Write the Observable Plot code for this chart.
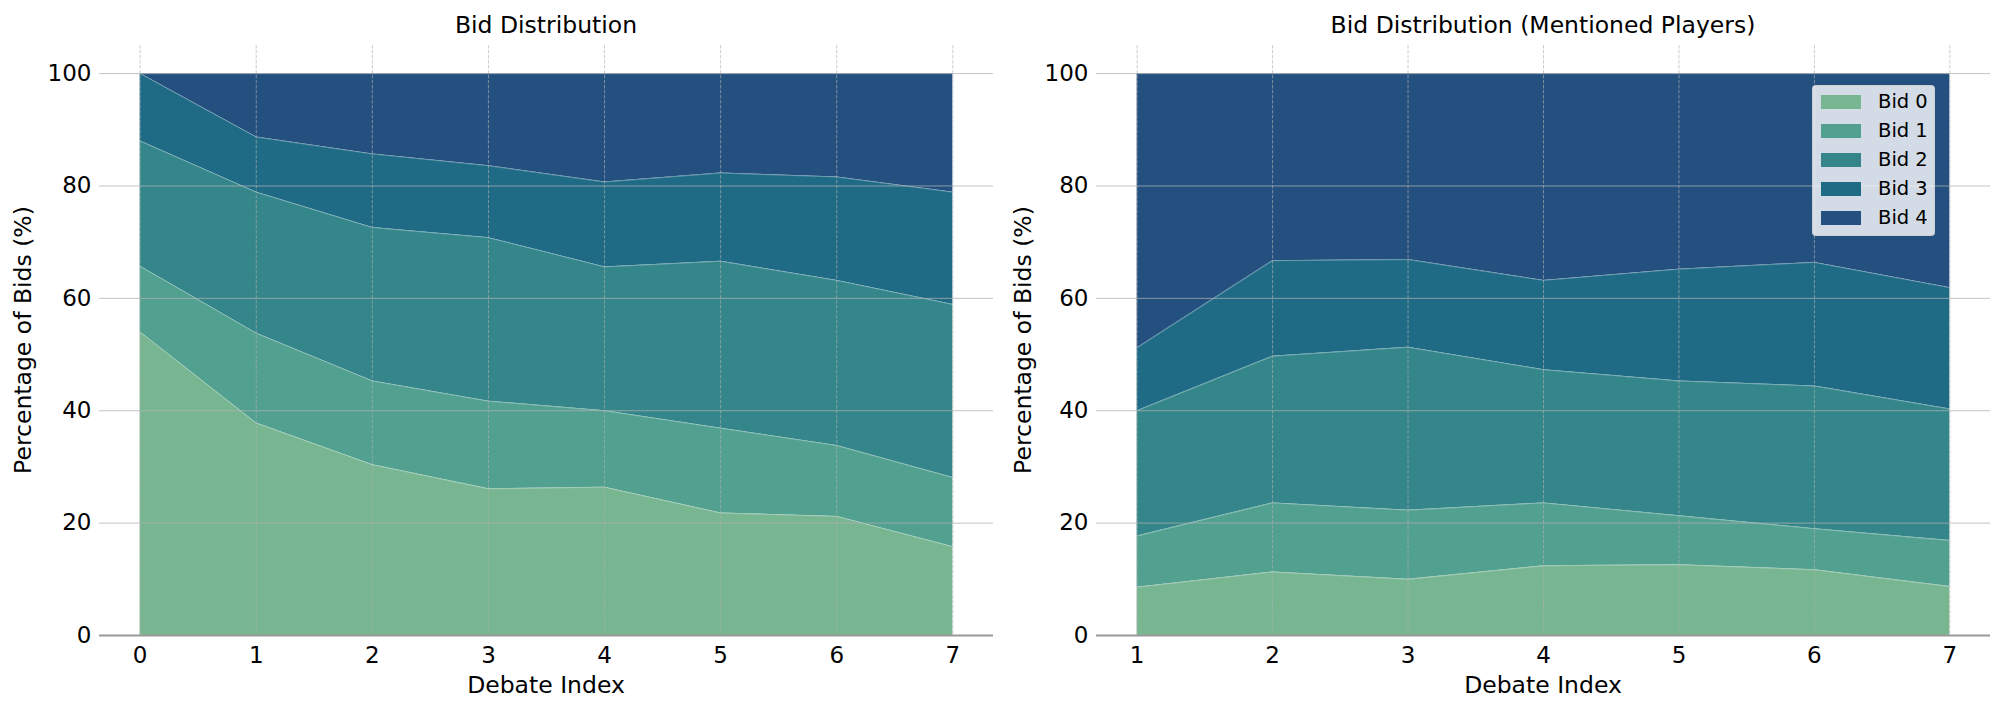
<!DOCTYPE html>
<html>
<head>
<meta charset="utf-8">
<script src="https://cdn.jsdelivr.net/npm/d3@7"></script>
<script src="https://cdn.jsdelivr.net/npm/@observablehq/plot@0.6"></script>
<style>
  html, body { margin: 0; padding: 0; background: #fff; }
  #wrap { position: relative; width: 2003px; height: 712px; overflow: hidden; font-family: "DejaVu Sans", sans-serif; }
  .panel { position: absolute; top: 0; }
  #overlay { position: absolute; left: 0; top: 0; pointer-events: none; }
  #legend { position: absolute; left: 1812px; top: 85px; width: 123px; height: 151px; box-sizing: border-box;
    background: rgba(255,255,255,0.8); border: 1px solid rgba(204,204,204,0.8); border-radius: 4px; }
  .lrow { position: absolute; left: 8px; height: 20px; display: flex; align-items: center; }
  .lsw { width: 40px; height: 14px; }
  .ltx { margin-left: 17px; font-size: 19.5px; color: #000; line-height: 20px; }
</style>
</head>
<body>
<div id="wrap">
  <div id="left" class="panel" style="left:0px"></div>
  <div id="right" class="panel" style="left:1000px"></div>
  <div id="legend"></div>
  <svg id="overlay" width="2003" height="712"></svg>
</div>
<script>
// ---- data ----
const bidLabels = ["Bid 0", "Bid 1", "Bid 2", "Bid 3", "Bid 4"];
const bidColors = ["#78b692", "#52a08f", "#34868a", "#1f6b86", "#245080"];

const leftX = [0, 1, 2, 3, 4, 5, 6, 7];
const leftBid0 = [54.0, 37.8, 30.4, 26.1, 26.4, 21.8, 21.2, 15.8];
const leftBid1 = [11.7, 16.0, 14.9, 15.6, 13.6, 15.1, 12.6, 12.3];
const leftBid2 = [22.3, 25.1, 27.3, 29.1, 25.6, 29.7, 29.4, 30.8];
const leftBid3 = [12.0, 9.8, 13.1, 12.8, 15.1, 15.7, 18.4, 20.0];
const leftBid4 = [0.0, 11.3, 14.3, 16.4, 19.3, 17.7, 18.4, 21.1];

const rightX = [1, 2, 3, 4, 5, 6, 7];
const rightBid0 = [8.6, 11.3, 10.0, 12.4, 12.6, 11.7, 8.7];
const rightBid1 = [9.1, 12.3, 12.3, 11.2, 8.7, 7.3, 8.2];
const rightBid2 = [22.3, 26.1, 29.0, 23.7, 24.0, 25.4, 23.4];
const rightBid3 = [11.2, 17.0, 15.6, 15.9, 19.9, 22.0, 21.6];
const rightBid4 = [48.8, 33.3, 33.1, 36.8, 34.8, 33.6, 38.1];

const yTicks = [0, 20, 40, 60, 80, 100];
const titles = ["Bid Distribution", "Bid Distribution (Mentioned Players)"];
const xLabel = "Debate Index";
const yLabel = "Percentage of Bids (%)";

// ---- build tidy tables ----
function tidy(xs, series) {
  const out = [];
  series.forEach((vals, i) => {
    xs.forEach((x, j) => out.push({x, v: vals[j], bid: bidLabels[i]}));
  });
  return out;
}
const leftData = tidy(leftX, [leftBid0, leftBid1, leftBid2, leftBid3, leftBid4]);
const rightData = tidy(rightX, [rightBid0, rightBid1, rightBid2, rightBid3, rightBid4]);

function makePanel(data, xs, opts) {
  const span = xs[xs.length - 1] - xs[0];
  return Plot.plot({
    width: opts.width,
    height: 712,
    marginLeft: opts.marginLeft,
    marginRight: opts.marginRight,
    marginTop: 45,
    marginBottom: 77,
    style: {fontFamily: "DejaVu Sans, sans-serif", fontSize: "23px", color: "#000", background: "transparent"},
    x: {domain: [xs[0] - 0.05 * span, xs[xs.length - 1] + 0.05 * span]},
    y: {domain: [0, 105]},
    color: {domain: bidLabels, range: bidColors},
    marks: [
      Plot.areaY(data, {x: "x", y: "v", fill: "bid", z: "bid"}),
      Plot.lineY(data, Plot.stackY2({x: "x", y: "v", z: "bid", stroke: "white", strokeOpacity: 0.3, strokeWidth: 1})),
      Plot.ruleY(yTicks, {stroke: "#b0b0b0", strokeOpacity: 0.75, strokeWidth: 1}),
      Plot.ruleX(xs, {stroke: "#b0b0b0", strokeOpacity: 0.8, strokeWidth: 0.8, strokeDasharray: "3.5,1.5"}),
      Plot.ruleY([0], {stroke: "#999999", strokeWidth: 2}),
      Plot.axisX(xs, {tickSize: 0, tickPadding: 11, tickFormat: d => String(d), label: null, fontSize: 23}),
      Plot.axisY(yTicks, {tickSize: 0, tickPadding: 8, tickFormat: d => String(d), label: null, fontSize: 23})
    ]
  });
}

document.getElementById("left").appendChild(makePanel(leftData, leftX, {width: 1000, marginLeft: 99, marginRight: 7}));
document.getElementById("right").appendChild(makePanel(rightData, rightX, {width: 1003, marginLeft: 96, marginRight: 13}));

// ---- titles and axis labels ----
const ov = d3.select("#overlay");
const panels = [{cx: 546, ylx: 31}, {cx: 1543, ylx: 1031}];
panels.forEach((p, i) => {
  ov.append("text").attr("x", p.cx).attr("y", 33).attr("text-anchor", "middle")
    .style("font-family", "DejaVu Sans, sans-serif").style("font-size", "23.5px").attr("fill", "#000").text(titles[i]);
  ov.append("text").attr("x", p.cx).attr("y", 693).attr("text-anchor", "middle")
    .style("font-family", "DejaVu Sans, sans-serif").style("font-size", "23.5px").attr("fill", "#000").text(xLabel);
  ov.append("text").attr("transform", `translate(${p.ylx},340) rotate(-90)`).attr("text-anchor", "middle")
    .style("font-family", "DejaVu Sans, sans-serif").style("font-size", "23.5px").attr("fill", "#000").text(yLabel);
});

// ---- legend ----
const lg = d3.select("#legend");
const rowTops = [6, 35, 64, 93, 122];
bidLabels.forEach((b, i) => {
  const r = lg.append("div").attr("class", "lrow").style("top", rowTops[i] + "px");
  r.append("div").attr("class", "lsw").style("background", bidColors[i]);
  r.append("div").attr("class", "ltx").text(b);
});
</script>
</body>
</html>
